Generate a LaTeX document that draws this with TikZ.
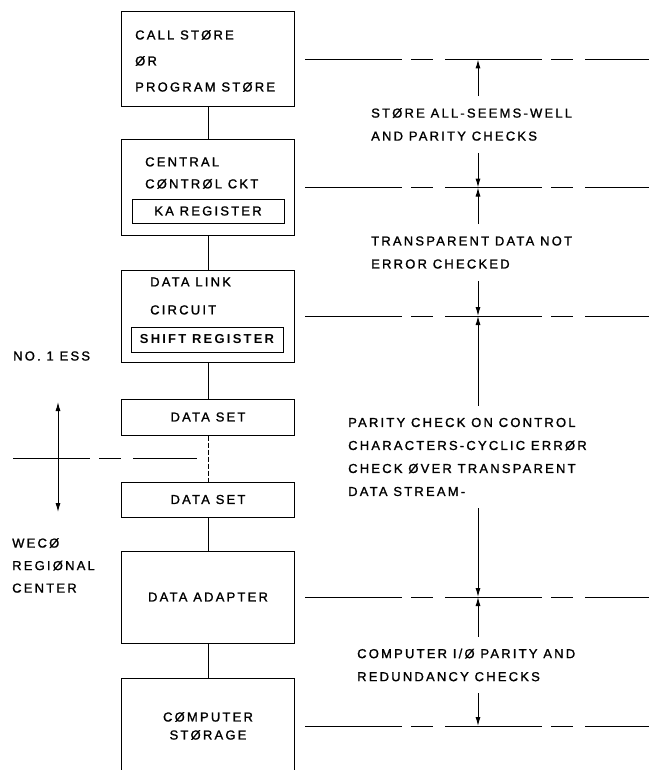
\documentclass[tikz,border=0pt]{standalone}
\usepackage{fontspec}
\setmainfont{Liberation Sans}[LetterSpace=17,FakeBold=1.3,BoldFeatures={FakeBold=0}]
\usepackage{tikz}
\usetikzlibrary{arrows.meta,positioning,calc}
\newcommand\lsize[1]{\fontsize{13}{#1}\selectfont}
\tikzset{
  >={Latex[length=9pt,width=5pt]},
  blk/.style={draw,line width=1pt,minimum width=173pt,inner sep=0pt,align=center,font=\lsize{18}},
  reg/.style={draw,line width=0.9pt,minimum width=152pt,minimum height=24pt,inner sep=0pt,font=\lsize{18}},
  txt/.style={align=left,inner sep=0pt,font=\lsize{23}},
  note/.style={txt,inner xsep=0pt,inner ysep=12pt},
  lvl/.style={line width=1pt,dash pattern=on 97pt off 9pt on 22pt off 12pt},
  link/.style={line width=1pt},
  dim/.style={->,line width=1pt},
}
\begin{document}
\begin{tikzpicture}[x=1pt,y=-1pt]
\useasboundingbox (0,0) rectangle (649,770);
% blocks
\node[blk,minimum height=95pt] (cs) at (208,59.5) {};
\node[blk,minimum height=95pt] (cc) at (208,187.5) {};
\node[blk,minimum height=92pt] (dl) at (208,316) {};
\node[blk,minimum height=36pt] (ds1) at (208,417) {DATA SET};
\node[blk,minimum height=35pt] (ds2) at (208,499.5) {DATA SET};
\node[blk,minimum height=92pt] (da) at (208,597) {DATA ADAPTER};
\node[blk,minimum height=96pt] (st) at (208,726) {CØMPUTER\\STØRAGE};
\node[txt,anchor=west,font=\lsize{26}] (cst) at (135,61) {CALL STØRE\\ØR\\PROGRAM STØRE};
\node[txt,anchor=west,font=\lsize{22}] (cct) at (145,173) {CENTRAL\\CØNTRØL CKT};
\node[reg] (ka) at (208,211) {KA REGISTER};
\node[txt,anchor=west,font=\lsize{28}] (dlt) at (150,296) {DATA LINK\\CIRCUIT};
\node[reg,minimum height=25pt,font=\lsize{18}\bfseries] (sr) at (207,339.5) {SHIFT REGISTER};
\draw[link] (cs) -- (cc);
\draw[link] (cc) -- (dl);
\draw[link] (dl) -- (ds1);
\draw[link,dash pattern=on 5pt off 2pt] (ds1) -- (ds2);
\draw[link] (ds2) -- (da);
\draw[link] (da) -- (st);
% left side
\node[txt,anchor=west] (ess) at (13,356) {NO. 1 ESS};
\node[txt,anchor=west,font=\lsize{22.5}] (weco) at (12,565.5) {WECØ\\REGIØNAL\\CENTER};
\coordinate (up) at (58,402);
\coordinate (dn) at (58,512);
\draw[<->,link] (up) -- (dn);
\coordinate (bl) at (13,458);
\coordinate (br) at (197,458);
\draw[lvl,dash phase=20pt] (bl) -- (br);
% levels and checks
\coordinate (rim) at (649,0);
\coordinate (ax) at (478,0);
\foreach \b in {cs,cc,dl,da,st}
  \draw[lvl] ([xshift=10pt]\b.east) -- (\b.east -| rim);
\node[note,anchor=west] (n1) at (371,124.5) {STØRE ALL-SEEMS-WELL\\AND PARITY CHECKS};
\node[note,anchor=west] (n2) at (371,252.5) {TRANSPARENT DATA NOT\\ERROR CHECKED};
\node[note,anchor=west] (n3) at (348,457) {PARITY CHECK ON CONTROL\\CHARACTERS-CYCLIC ERRØR\\CHECK ØVER TRANSPARENT\\DATA STREAM-};
\node[note,anchor=west] (n4) at (357,665) {COMPUTER I/Ø PARITY AND\\REDUNDANCY CHECKS};
\foreach \n/\a/\b in {n1/cs/cc,n2/cc/dl,n3/dl/da,n4/da/st}{
  \draw[dim] (\n.north -| ax) -- (\a.east -| ax);
  \draw[dim] (\n.south -| ax) -- (\b.east -| ax);
}
\end{tikzpicture}
\end{document}
